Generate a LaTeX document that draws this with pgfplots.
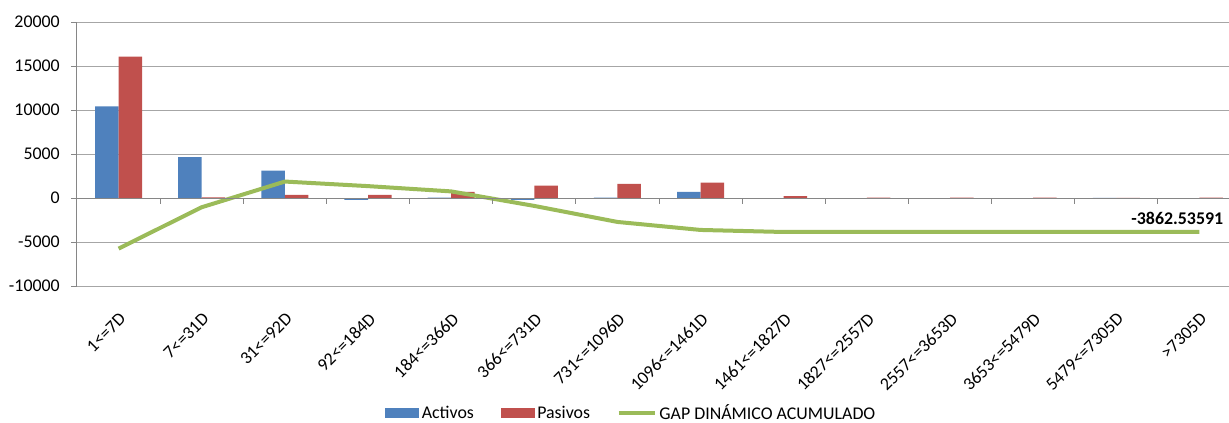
\documentclass[border=0pt]{standalone}
\usepackage{fontspec}
\setmainfont{Carlito}
\usepackage{pgfplots}
\usepackage{pgfplotstable}
\pgfplotsset{compat=1.18}
\definecolor{cA}{HTML}{4F81BD}
\definecolor{cP}{HTML}{C0504D}
\definecolor{cG}{HTML}{9BBB59}
\definecolor{axgray}{HTML}{868686}
\definecolor{gridgray}{HTML}{A6A6A6}

\pgfplotstableread{
x A P G
0 10400 16060 -5750
1 4640 80 -1050
2 3120 350 1870
3 -210 350 1350
4 30 690 750
5 -220 1410 -900
6 40 1600 -2720
7 690 1750 -3630
8 0 205 -3862.53591
9 0 30 -3862.53591
10 0 30 -3862.53591
11 0 30 -3862.53591
12 20 20 -3862.53591
13 0 30 -3862.53591
}\data

\begin{document}
\begin{tikzpicture}[font=\fontsize{13.4pt}{15pt}\selectfont]
\begin{axis}[
  at={(0,0)}, anchor=south west,
  scale only axis,
  width=873pt, height=198pt,
  xmin=-0.5, xmax=13.5,
  ymin=-10000, ymax=20000,
  clip=false,
  separate axis lines,
  axis y line*=left,
  axis x line*=bottom,
  x axis line style={draw=none},
  y axis line style={draw=axgray, line width=0.75pt},
  xtick={0,...,13},
  xticklabels={1<=7D, 7<=31D, 31<=92D, 92<=184D, 184<=366D, 366<=731D, 731<=1096D, 1096<=1461D, 1461<=1827D, 1827<=2557D, 2557<=3653D, 3653<=5479D, 5479<=7305D, >7305D},
  x tick style={draw=none},
  xticklabel style={yshift=-14.5pt, rotate=45, anchor=north east, inner sep=0pt},
  ytick={-10000,-5000,0,5000,10000,15000,20000},
  yticklabels={-10000,-5000,0,5000,10000,15000,20000},
  scaled y ticks=false,
  y tick style={draw=axgray, line width=0.75pt},
  tick align=outside,
  major tick length=4.5pt,
  yticklabel style={inner sep=0pt, xshift=-8.25pt},
  ymajorgrids,
  grid style={draw=gridgray, line width=0.75pt},
  legend style={draw=none, fill=none, at={(0.4764,-0.481)}, anchor=center,
    legend columns=3, font=\fontsize{13.4pt}{15pt}\selectfont,
    /tikz/every even column/.append style={column sep=18pt},
    nodes={inner sep=2pt}},
  legend cell align=left,
]
\addplot[ybar, bar width=0.283, bar shift=-0.1415, fill=cA, draw=none,
  legend image code/.code={\fill[cA] (0pt,-4pt) rectangle (25.5pt,4pt);}]
  table[x=x, y=A] {\data};
\addlegendentry{Activos}
\addplot[ybar, bar width=0.283, bar shift=0.1415, fill=cP, draw=none,
  legend image code/.code={\fill[cP] (0pt,-4pt) rectangle (25.5pt,4pt);}]
  table[x=x, y=P] {\data};
\addlegendentry{Pasivos}
\addplot[sharp plot, mark=none, draw=cG, line width=3pt,
  legend image code/.code={\draw[cG, line width=3pt] (0pt,0pt) -- (27pt,0pt);}]
  table[x=x, y=G] {\data};
\addlegendentry{GAP DINÁMICO ACUMULADO}
\draw[axgray, line width=0.75pt] (axis cs:-0.5,0) -- (axis cs:13.5,0);
\pgfplotsinvokeforeach{0.5,1.5,2.5,3.5,4.5,5.5,6.5,7.5,8.5,9.5,10.5,11.5,12.5}{
  \draw[axgray, line width=0.75pt] (axis cs:#1,0) -- ++(0pt,-4.5pt);
}
\node[anchor=south east, inner sep=0pt, font=\fontsize{13.4pt}{15pt}\selectfont\bfseries, xshift=18pt, yshift=5.5pt]
  at (axis cs:13,-3862.53591) {-3862.53591};
\end{axis}
\pgfresetboundingbox
\useasboundingbox (-57.75pt,-102pt) rectangle (864pt,214.5pt);
\end{tikzpicture}
\end{document}
